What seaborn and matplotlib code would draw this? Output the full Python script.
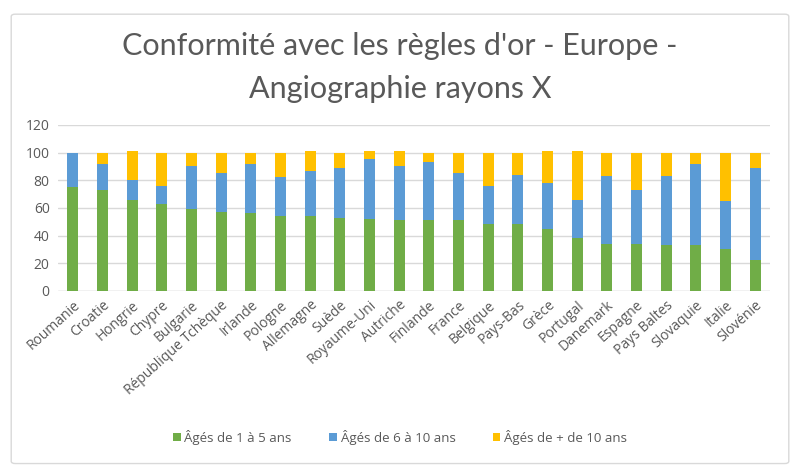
import matplotlib
matplotlib.use("Agg")
import matplotlib.pyplot as plt
from matplotlib.patches import Patch, FancyBboxPatch
import seaborn as sns
import pandas as pd

# data (percentages)
pays = ["Roumanie", "Croatie", "Hongrie", "Chypre", "Bulgarie", "République Tchèque",
        "Irlande", "Pologne", "Allemagne", "Suède", "Royaume-Uni", "Autriche", "Finlande",
        "France", "Belgique", "Pays-Bas", "Grèce", "Portugal", "Danemark", "Espagne",
        "Pays Baltes", "Slovaquie", "Italie", "Slovénie"]
ages_1_5 = [75, 73, 66, 63, 59, 57, 56, 54, 54, 53, 52, 51, 51, 51, 48, 48, 45, 38, 34, 34, 33, 33, 30, 22]
ages_6_10 = [25, 19, 14, 13, 31, 28, 36, 28, 33, 36, 43, 39, 42, 34, 28, 36, 33, 28, 49, 39, 50, 59, 35, 67]
ages_10_plus = [0, 8, 21, 24, 10, 15, 8, 18, 14, 11, 6, 11, 7, 15, 24, 16, 23, 35, 17, 27, 17, 8, 35, 11]
series_labels = ["Âgés de 1 à 5 ans", "Âgés de 6 à 10 ans", "Âgés de + de 10 ans"]
colors = ["#70AD47", "#5B9BD5", "#FFC000"]

df = pd.DataFrame({"pays": pays, "a": ages_1_5, "b": ages_6_10, "c": ages_10_plus})
df["ab"] = df["a"] + df["b"]
df["abc"] = df["ab"] + df["c"]

sns.set_style("white")
plt.rcParams["font.family"] = ["Open Sans", "DejaVu Sans"]
text_col = "#595959"

fig = plt.figure(figsize=(8, 4.73), dpi=100)
ax = fig.add_axes([0.0725, 0.385, 0.89, 0.351])

# stacked bars: draw cumulative totals back to front
for col, c in zip(["abc", "ab", "a"], colors[::-1]):
    sns.barplot(data=df, x="pays", y=col, color=c, width=0.38, saturation=1,
                ax=ax, zorder=3, linewidth=0)

ax.set_ylim(0, 120)
ax.set_yticks(range(0, 121, 20))
ax.set_xlim(-0.5, len(pays) - 0.5)
ax.grid(axis="y", color="#D9D9D9", linewidth=1, zorder=0)
ax.set_axisbelow(True)
for s in ax.spines.values():
    s.set_visible(False)
ax.axhline(0, color="#D9D9D9", linewidth=1, zorder=1)
ax.set_xlabel("")
ax.set_ylabel("")
ax.tick_params(axis="both", length=0, labelsize=10, colors=text_col, pad=6)
ax.set_xticks(range(len(pays)))
ax.set_xticklabels(pays, rotation=42, ha="right", rotation_mode="anchor")
ax.tick_params(axis="x", pad=5)

title_font = dict(ha="center", va="center", fontsize=22, color=text_col,
                  family=["Lato", "DejaVu Sans"])
fig.text(0.5, 0.903, "Conformité avec les règles d'or - Europe -", **title_font)
fig.text(0.5, 0.812, "Angiographie rayons X", **title_font)

handles = [Patch(facecolor=c, edgecolor="none") for c in colors]
fig.legend(handles, series_labels, loc="center", bbox_to_anchor=(0.5, 0.076), ncol=3,
           frameon=False, fontsize=9.5, handlelength=0.6, handleheight=0.6,
           handletextpad=0.3, columnspacing=2.8, labelcolor=text_col)

border = FancyBboxPatch((0.014, 0.02), 0.972, 0.95, boxstyle="round,pad=0,rounding_size=0.005",
                        transform=fig.transFigure, facecolor="none", edgecolor="#D9D9D9",
                        linewidth=1)
fig.patches.append(border)

fig.savefig("out.png", dpi=100)
